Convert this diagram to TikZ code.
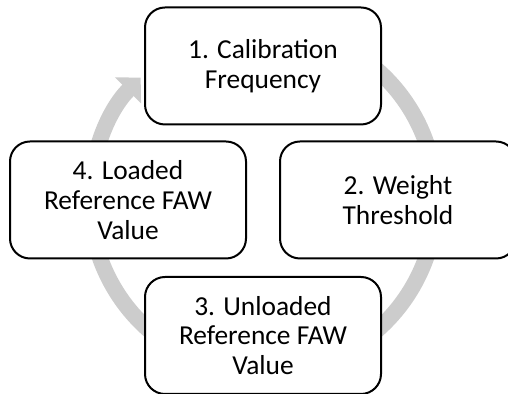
\documentclass[tikz,border=0pt]{standalone}
\usepackage{fontspec}
\setmainfont{Carlito}
\usetikzlibrary{arrows.meta}

\begin{document}
\begin{tikzpicture}[x=0.5pt,y=0.5pt]
		\tikzstyle{stepbox}=[draw,rounded corners=10pt,line width=1pt,fill=white,minimum width=118pt,minimum height=58.5pt,align=center,font=\fontsize{13.7}{14.8}\selectfont]
		\tikzstyle{ring}=[line width=8pt,draw=black!20]
		
		\useasboundingbox (0,0) rectangle (508,394);
		\clip (0,0) rectangle (508,394);
		
		\coordinate (mid) at (263,194);
		\draw[ring,-{Triangle[width=18pt,length=9pt]}] ([shift={(60:173)}]mid) arc[start angle=60,end angle=-225,radius=173];
		
		\node[stepbox](s1) at (263,328){1. Calibration\\Frequency};
		\node[stepbox](s2) at (398,194){2. Weight\\Threshold};
		\node[stepbox](s3) at (263,58.5){3. Unloaded\\Reference FAW\\Value};
		\node[stepbox](s4) at (128,194){4. Loaded\\Reference FAW\\Value};
\end{tikzpicture}
\end{document}
